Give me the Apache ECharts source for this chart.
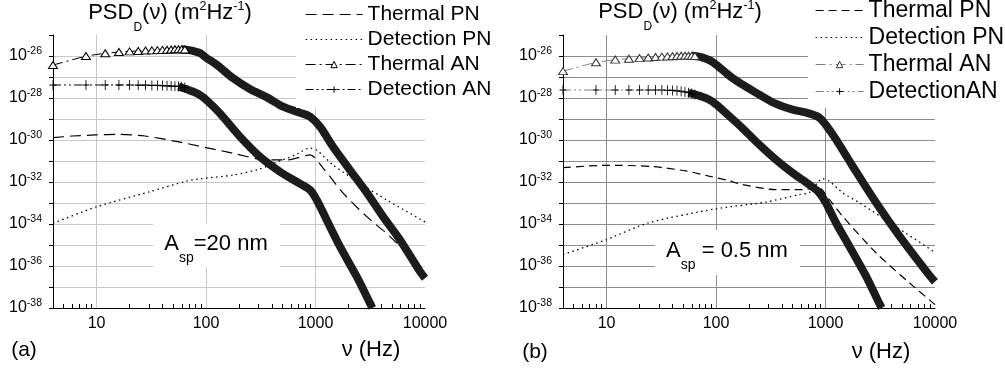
<!DOCTYPE html>
<html><head><meta charset="utf-8">
<script src="https://cdn.jsdelivr.net/npm/echarts@6/dist/echarts.min.js"></script>
<style>html,body{margin:0;padding:0;background:#fff}#c{width:1005px;height:373px}</style>
</head><body><div id="c"></div>
<script>
// All PSD values are log10 of PSD_D (m^2/Hz).
const majorTickLabels = ['10', '100', '1000', '10000'];
const minorTickValues = [5, 6, 7, 8, 9, 20, 30, 40, 50, 60, 70, 80, 90, 200, 300, 400, 500, 600, 700, 800, 900, 2000, 3000, 4000, 5000, 6000, 7000, 8000, 9000];
const legendNamesA = ['Thermal PN', 'Detection PN', 'Thermal AN', 'Detection AN'];
const legendNamesB = ['Thermal PN', 'Detection PN', 'Thermal AN', 'DetectionAN'];

// markers (individually visible) frequencies, Hz
const markerFreq = [4, 8, 12, 16, 20, 24, 28, 32, 36, 40, 44, 48, 52, 56, 60, 64];

// ---- Panel (a): A_sp = 20 nm ----
const a_thermalPN_f = [4, 6, 9.7, 15.7, 27.6, 55, 129, 176, 358, 546, 892, 1178, 1795, 2940, 4800, 10000];
const a_thermalPN = [-29.89, -29.81, -29.76, -29.73, -29.81, -30.08, -30.48, -30.63, -30.95, -30.95, -30.71, -31.35, -32.54, -33.65, -34.6, -36.3];
const a_detectionPN_f = [4, 10, 30.7, 66.5, 88, 176, 311, 442, 650, 892, 1026, 1456, 2550, 4480, 10000];
const a_detectionPN = [-33.97, -33.18, -32.46, -31.96, -31.85, -31.67, -31.38, -31.05, -30.72, -30.38, -30.48, -31.2, -32.06, -32.86, -33.9];
const a_thermalAN_mk = [-26.43, -26.0, -25.87, -25.81, -25.78, -25.76, -25.74, -25.73, -25.72, -25.71, -25.70, -25.69, -25.68, -25.68, -25.68, -25.69];
const a_thermalAN_f = [60, 70, 80, 88, 100, 126, 176, 251, 360, 505, 721, 892, 1100, 1445, 2065, 2950, 4140, 5915, 9020, 10000];
const a_thermalAN = [-25.68, -25.72, -25.79, -25.86, -26.08, -26.43, -27.05, -27.57, -27.97, -28.41, -28.70, -28.89, -29.37, -30.32, -31.43, -32.52, -33.65, -34.76, -36.27, -36.58];
const a_detectionAN_mk = [-27.38, -27.38, -27.38, -27.38, -27.38, -27.39, -27.39, -27.4, -27.4, -27.41, -27.42, -27.43, -27.44, -27.45, -27.47, -27.5];
const a_detectionAN_f = [56, 68, 80, 88, 101, 134, 204, 311, 473, 673, 892, 1026, 1265, 1675, 2380, 3150, 3305];
const a_detectionAN = [-27.45, -27.6, -27.74, -27.86, -28.1, -28.73, -29.84, -30.8, -31.51, -31.99, -32.38, -32.86, -33.81, -35.08, -36.51, -37.78, -38.0];

// ---- Panel (b): A_sp = 0.5 nm ----
const b_thermalPN_f = [4, 9.3, 13.3, 26.8, 54, 86, 126, 173, 351, 615, 875, 1082, 1432, 2900, 5860, 10000];
const b_thermalPN = [-31.32, -31.21, -31.21, -31.27, -31.48, -31.72, -31.91, -32.12, -32.36, -32.36, -32.28, -32.83, -33.63, -35.38, -36.81, -37.84];
const b_detectionPN_f = [4, 10, 24, 98.6, 284, 574, 708, 938, 1082, 1432, 2040, 4120, 10000];
const b_detectionPN = [-35.46, -34.74, -33.95, -33.28, -32.96, -32.6, -32.51, -31.85, -31.96, -32.51, -32.99, -34.03, -35.35];
const b_thermalAN_mk = [-26.72, -26.3, -26.17, -26.13, -26.1, -26.07, -26.05, -26.03, -26.02, -26.01, -26.0, -25.99, -25.99, -25.99, -25.99, -26.0];
const b_thermalAN_f = [60, 70, 80, 90, 104, 120, 141, 170, 200, 250, 350, 500, 700, 870, 1000, 1245, 1770, 2900, 4740, 8930, 10000];
const b_thermalAN = [-25.99, -26.03, -26.12, -26.24, -26.48, -26.75, -27.05, -27.33, -27.55, -27.85, -28.27, -28.55, -28.73, -28.92, -29.26, -29.97, -31.25, -32.99, -34.58, -36.46, -36.75];
const b_detectionAN_mk = [-27.62, -27.62, -27.62, -27.62, -27.62, -27.62, -27.62, -27.62, -27.63, -27.64, -27.66, -27.68, -27.71, -27.75, -27.79, -27.83];
const b_detectionAN_f = [56, 64, 72, 86, 100, 122, 173, 247, 351, 498, 708, 875, 1007, 1245, 1650, 2350, 3110, 3260];
const b_detectionAN = [-27.75, -27.83, -27.91, -28.07, -28.3, -28.7, -29.42, -30.21, -30.93, -31.56, -32.12, -32.51, -32.99, -33.94, -35.06, -36.49, -37.8, -38.0];

const FONT = '"Liberation Sans", Arial, Helvetica, sans-serif';
const pairs = (f, v) => f.map((x, i) => [x, v[i]]);
const PLUS = 'path://M5 0V10M0 5H10';

function xMain(g, gridColor) {
  return {
    type: 'log', logBase: 10, gridIndex: g, min: 4, max: 10000,
    axisLine: { show: true, lineStyle: { color: '#000', width: 1 } },
    axisTick: { show: false },
    axisLabel: { margin: 8, fontSize: 16, color: '#000', fontFamily: FONT,
      formatter: v => { const s = String(Math.round(v)); return majorTickLabels.includes(s) ? s : ''; } },
    splitLine: { show: true, showMinLine: false, showMaxLine: false, lineStyle: { color: gridColor, width: 1 } }
  };
}
function xMinor(g) {
  return {
    type: 'log', logBase: 10, gridIndex: g, min: 4, max: 10000, position: 'bottom',
    axisLine: { show: false }, axisLabel: { show: false }, splitLine: { show: false },
    axisTick: { show: true, inside: true, length: 4, customValues: minorTickValues, lineStyle: { color: '#000', width: 1 } }
  };
}
function yAx(g, gridColor) {
  return {
    type: 'value', gridIndex: g, min: -38, max: -25, interval: 1,
    axisLine: { show: true, lineStyle: { color: '#000', width: 1 } },
    axisTick: { show: true, inside: false, length: 4, lineStyle: { color: '#000' } },
    axisLabel: { margin: 11, color: '#000',
      formatter: v => { const e = Math.round(v); return (e % 2 === 0) ? '{b|10}{s|' + e + '}' : ''; },
      rich: { b: { fontSize: 16, fontFamily: FONT, color: '#000' },
              s: { fontSize: 10.5, fontFamily: FONT, color: '#000', padding: [0, 0, 9, 0] } } },
    splitLine: { show: true, showMinLine: false, showMaxLine: false, lineStyle: { color: gridColor, width: 1 } }
  };
}
const BAND = '#1c1c1c';
function panelSeries(p, xi, yi, suffix, c) {
  return [
    { name: 'Thermal PN' + suffix, type: 'line', xAxisIndex: xi, yAxisIndex: yi, data: pairs(p.tpf, p.tp),
      symbol: 'none', smooth: 0.25, lineStyle: { color: '#000', width: 1.2, type: c.dash } },
    { name: 'Detection PN' + suffix, type: 'line', xAxisIndex: xi, yAxisIndex: yi, data: pairs(p.dpf, p.dp),
      symbol: 'none', smooth: 0.25, lineStyle: { color: '#000', width: 1.3, type: [1.5, 3.5] } },
    { name: c.tanName, type: 'line', xAxisIndex: xi, yAxisIndex: yi, data: pairs(markerFreq, p.tam),
      symbol: 'triangle', symbolSize: [9, 7], showSymbol: true, showAllSymbol: true,
      itemStyle: { color: '#fff', borderColor: c.triColor, borderWidth: 1 },
      lineStyle: { color: c.anLine, width: 1, type: [10, 4, 2, 4] } },
    { name: c.danName, type: 'line', xAxisIndex: xi, yAxisIndex: yi, data: pairs(markerFreq, p.dam),
      symbol: PLUS, symbolSize: [7, 10], showSymbol: true, showAllSymbol: true,
      itemStyle: { color: '#000', borderColor: '#000', borderWidth: 1 },
      lineStyle: { color: c.anLine, width: 1, type: [8, 3, 2, 3, 2, 3] } },
    { name: 'tAN band' + suffix, type: 'line', xAxisIndex: xi, yAxisIndex: yi, data: pairs(p.taf, p.ta),
      symbol: 'none', smooth: 0.3, lineStyle: { color: BAND, width: 8, cap: 'butt', join: 'round' } },
    { name: 'dAN band' + suffix, type: 'line', xAxisIndex: xi, yAxisIndex: yi, data: pairs(p.daf, p.da),
      symbol: 'none', smooth: 0.3, lineStyle: { color: BAND, width: 8, cap: 'butt', join: 'round' } }
  ];
}

const A = { tpf: a_thermalPN_f, tp: a_thermalPN, dpf: a_detectionPN_f, dp: a_detectionPN,
  tam: a_thermalAN_mk, taf: a_thermalAN_f, ta: a_thermalAN, dam: a_detectionAN_mk, daf: a_detectionAN_f, da: a_detectionAN };
const B = { tpf: b_thermalPN_f, tp: b_thermalPN, dpf: b_detectionPN_f, dp: b_detectionPN,
  tam: b_thermalAN_mk, taf: b_thermalAN_f, ta: b_thermalAN, dam: b_detectionAN_mk, daf: b_detectionAN_f, da: b_detectionAN };

function legendData(names, suffix, triColor) {
  return [
    { name: names[0] + suffix, itemStyle: { opacity: 0 } },
    { name: names[1] + suffix, itemStyle: { opacity: 0 } },
    { name: names[2] + suffix, itemStyle: { color: '#fff', borderColor: triColor, borderWidth: 1 } },
    { name: names[3] + suffix, itemStyle: { color: 'rgba(0,0,0,0)', borderColor: '#000', borderWidth: 1 } }
  ];
}

const supRich = {
  d: { fontSize: 12, fontFamily: FONT, fill: '#000', padding: [30, 0, 0, 0] },
  u: { fontSize: 12.5, fontFamily: FONT, fill: '#000', padding: [0, 0, 12, 0] },
  s: { fontSize: 14, fontFamily: FONT, fill: '#000', padding: [28, 0, 0, 0] }
};
function txt(x, y, text, size) {
  return { type: 'text', x: x, y: y, z: 10,
    style: { text: text, fontSize: size, fontFamily: FONT, fill: '#000', align: 'center', verticalAlign: 'middle', rich: supRich } };
}

const chart = echarts.init(document.getElementById('c'), null, { renderer: 'canvas' });
chart.setOption({
  animation: false,
  backgroundColor: '#fff',
  textStyle: { fontFamily: FONT },
  grid: [
    { left: 53, top: 35, width: 372, height: 273 },
    { left: 563, top: 35, width: 372, height: 273 }
  ],
  xAxis: [xMain(0, '#c8c8c8'), xMinor(0), xMain(1, '#8c8c8c'), xMinor(1)],
  yAxis: [yAx(0, '#c8c8c8'), yAx(1, '#8c8c8c')],
  legend: [
    { left: 296, top: 0, orient: 'vertical', padding: [4, 12, 8, 9], itemGap: 4, itemWidth: 57, itemHeight: 8,
      backgroundColor: '#fff', selectedMode: false, lineStyle: { width: 1.2 },
      textStyle: { fontSize: 21, lineHeight: 21, color: '#000', fontFamily: FONT },
      data: legendData(legendNamesA, '', '#000') },
    { left: 808, top: -1, orient: 'vertical', padding: [0, 20, 5, 7], itemGap: 4, itemWidth: 48, itemHeight: 8,
      backgroundColor: '#fff', selectedMode: false, lineStyle: { width: 1.2 },
      textStyle: { fontSize: 23, lineHeight: 23, color: '#000', fontFamily: FONT },
      formatter: n => n.replace(' (b)', ''),
      data: legendData(legendNamesB, ' (b)', '#333') }
  ],
  graphic: [
    { type: 'rect', z: 1, shape: { x: 153, y: 223, width: 127, height: 45 }, style: { fill: '#fff' } },
    { type: 'rect', z: 1, shape: { x: 655, y: 230, width: 145, height: 45 }, style: { fill: '#fff' } },
    txt(216, 244, 'A{s|sp}=20 nm', 22),
    txt(727, 251, 'A{s|sp} = 0.5 nm', 22),
    txt(170, 13, 'PSD{d|D}(ν) (m{u|2}Hz{u|-1})', 22),
    txt(680, 12, 'PSD{d|D}(ν) (m{u|2}Hz{u|-1})', 22),
    txt(371, 350, 'ν (Hz)', 22),
    txt(881, 352, 'ν (Hz)', 22),
    txt(24, 350, '(a)', 21),
    txt(535, 352, '(b)', 21)
  ],
  series: [
    ...panelSeries(A, 0, 0, '', { dash: [11, 6], tanName: 'Thermal AN', danName: 'Detection AN', triColor: '#000', anLine: '#000' }),
    ...panelSeries(B, 2, 1, ' (b)', { dash: [8, 5], tanName: 'Thermal AN (b)', danName: 'DetectionAN (b)', triColor: '#333', anLine: '#808080' })
  ]
});
</script>
</body></html>
